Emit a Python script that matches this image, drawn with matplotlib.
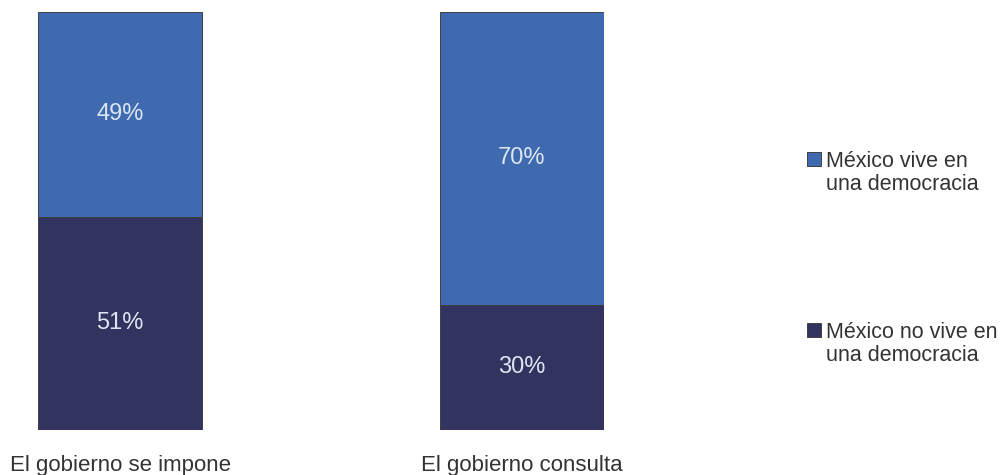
import matplotlib
matplotlib.use("Agg")
import matplotlib.pyplot as plt
from matplotlib.patches import Rectangle

plt.rcParams['font.family'] = ['Liberation Sans', 'DejaVu Sans']

categories = ["El gobierno se impone", "El gobierno consulta"]
no_vive = [51, 30]
vive = [49, 70]
labels = ["México vive en\nuna democracia", "México no vive en\nuna democracia"]

c_vive = "#3F6AB0"
c_no = "#33335F"
W, H = 1001, 475

fig = plt.figure(figsize=(W / 100, H / 100), dpi=100)
ax = fig.add_axes([38 / W, 45 / H, 566 / W, 418 / H])

x = list(range(len(categories)))
w = 164 / 402
ax.bar(x, no_vive, width=w, color=c_no, edgecolor="#404040", linewidth=0.7)
ax.bar(x, vive, width=w, bottom=no_vive, color=c_vive, edgecolor="#404040", linewidth=0.7)

for i in x:
    ax.text(i, no_vive[i] / 2, "{}%".format(no_vive[i]), ha="center", va="center",
            color="#DCE6F2", fontsize=17)
    ax.text(i, no_vive[i] + vive[i] / 2, "{}%".format(vive[i]), ha="center", va="center",
            color="#DCE6F2", fontsize=17)

ax.set_xlim(-0.204, 1.204)
ax.set_ylim(0, 100)
ax.set_xticks(x)
ax.set_xticklabels(categories, fontsize=16, color="#333333")
ax.tick_params(axis="x", length=0, pad=18)
ax.set_yticks([])
for s in ax.spines.values():
    s.set_visible(False)

# legend drawn by hand: square lined up with the first text line
leg_colors = [c_vive, c_no]
leg_y = [166, 337]  # baseline of first line, pixels from top
for lab, col, yb in zip(labels, leg_colors, leg_y):
    fig.patches.append(Rectangle((807 / W, (H - yb) / H), 14 / W, 14 / H,
                                 transform=fig.transFigure, facecolor=col,
                                 edgecolor="#404040", linewidth=0.7))
    # va="baseline" sits on the last line, so drop one line (~24 px)
    fig.text(826 / W, (H - yb - 24) / H, lab, ha="left", va="baseline", fontsize=15.5,
             color="#333333", linespacing=1.1)

fig.savefig("out.png", dpi=100)
